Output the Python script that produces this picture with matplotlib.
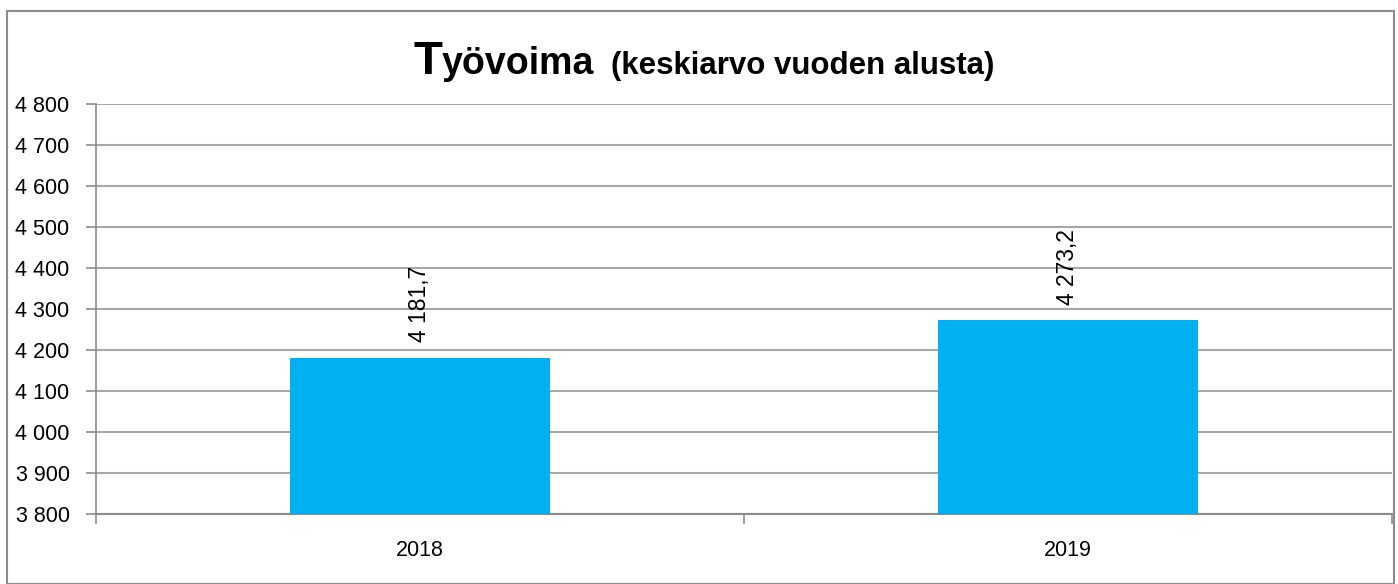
import matplotlib.pyplot as plt
from matplotlib.patches import Rectangle

years = ["2018", "2019"]
values = [4181.7, 4273.2]
labels = ["4 181,7", "4 273,2"]
yticks = [3800, 3900, 4000, 4100, 4200, 4300, 4400, 4500, 4600, 4700, 4800]
ytick_labels = ["3 800", "3 900", "4 000", "4 100", "4 200", "4 300",
                "4 400", "4 500", "4 600", "4 700", "4 800"]

W, H = 1398, 584
fig = plt.figure(figsize=(W / 100, H / 100), dpi=100)
plt.rcParams['font.family'] = ['Liberation Sans', 'DejaVu Sans']

# outer frame
fig.patches.append(Rectangle((7 / W, 0), 1387 / W, 1 - 11 / H, transform=fig.transFigure,
                             fill=False, edgecolor='#8c8c8c', linewidth=1.5))

ax = fig.add_axes([96 / W, 1 - 514 / H, (1392 - 96) / W, (514 - 104) / H])
x = [0, 1]
ax.bar(x, values, width=0.40, color='#00B0F0', zorder=3)
ax.set_xlim(-0.5, 1.5)
ax.set_ylim(3800, 4800)
ax.set_yticks(yticks)
ax.set_yticklabels(ytick_labels, fontsize=15.5)
ax.set_xticks(x)
ax.set_xticklabels(years, fontsize=15.5)
ax.tick_params(axis='x', length=0, pad=19)
ax.tick_params(axis='y', length=7, color='#8c8c8c', width=1.2, pad=12)
# separators between categories
ax.set_xticks([-0.5, 0.5, 1.5], minor=True)
ax.tick_params(axis='x', which='minor', length=7, color='#8c8c8c', width=1.2)

ax.grid(axis='y', color='#a6a6a6', linewidth=1.5, zorder=0)
for s in ['top', 'right']:
    ax.spines[s].set_visible(False)
ax.spines['left'].set_color('#8c8c8c')
ax.spines['bottom'].set_color('#8c8c8c')
ax.spines['left'].set_linewidth(1.2)
ax.spines['bottom'].set_linewidth(1.5)

for xi, v, lab in zip(x, values, labels):
    ax.annotate(lab, (xi, v), xytext=(0, 11), textcoords='offset points',
                rotation=90, ha='center', va='bottom', fontsize=16.5)

# title: big "T", then "yövoima", then smaller subtitle, all on one baseline
fig.canvas.draw()
r = fig.canvas.get_renderer()
base = 1 - 74 / H
t0 = fig.text(0, base, "T", fontsize=34, fontweight='bold', va='baseline')
t1 = fig.text(0, base, "yövoima", fontsize=27, fontweight='bold', va='baseline')
t2 = fig.text(0, base, "(keskiarvo vuoden alusta)", fontsize=22.5, fontweight='bold',
              va='baseline')
w0 = t0.get_window_extent(r).width
w1 = t1.get_window_extent(r).width
w2 = t2.get_window_extent(r).width
gap = 17
start = 704 - (w0 + w1 + gap + w2) / 2
t0.set_x(start / W)
t1.set_x((start + w0) / W)
t2.set_x((start + w0 + w1 + gap) / W)

fig.savefig("out.png", dpi=100)
